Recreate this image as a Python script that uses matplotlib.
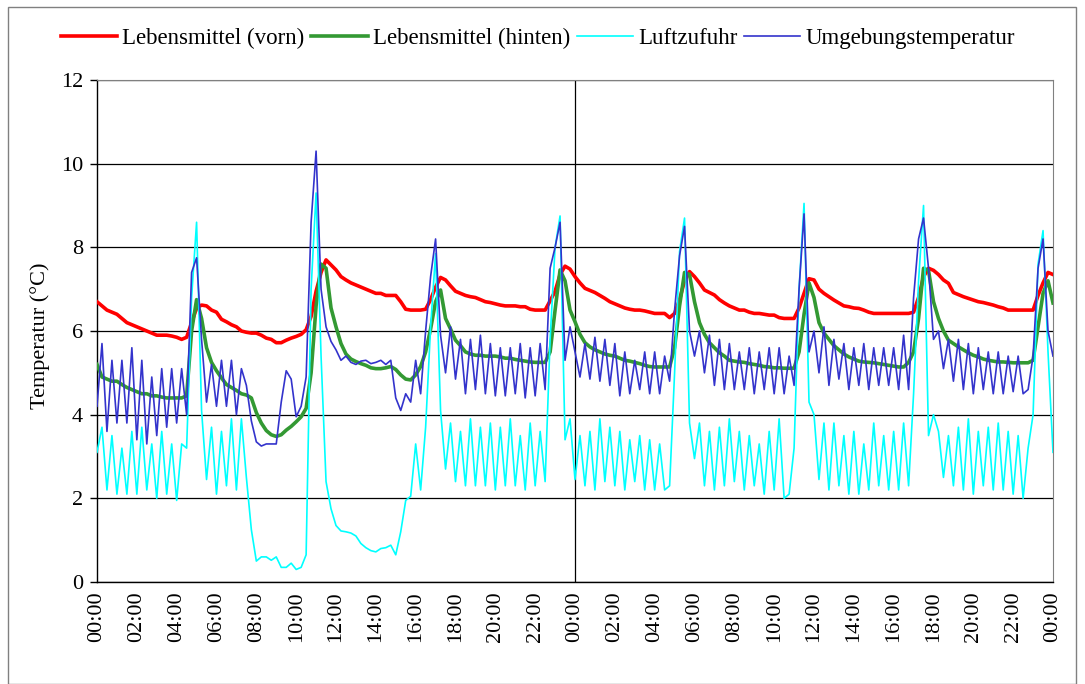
import numpy as np
import matplotlib
matplotlib.use("Agg")
import matplotlib.pyplot as plt
from matplotlib.lines import Line2D
from matplotlib.patches import Rectangle

plt.rcParams['font.family'] = ['Liberation Serif', 'DejaVu Serif']
plt.rcParams['font.size'] = 16

# Messwerte alle 15 Minuten ueber 48 Stunden (193 Werte je Reihe)
hours = np.arange(193) * 0.25

vorn = [
    6.70, 6.60, 6.50, 6.45,  6.40, 6.30, 6.20, 6.15,  6.10, 6.05, 6.00, 5.95,
    5.90, 5.90, 5.90, 5.88,  5.85, 5.80, 5.85, 6.20,  6.55, 6.62, 6.60, 6.50,
    6.45, 6.28, 6.22, 6.15,  6.10, 6.00, 5.97, 5.95,  5.95, 5.90, 5.83, 5.80,
    5.72, 5.72, 5.78, 5.83,  5.87, 5.92, 6.03, 6.35,  6.95, 7.40, 7.70, 7.58,
    7.46, 7.30, 7.22, 7.15,  7.10, 7.05, 7.00, 6.95,  6.90, 6.90, 6.85, 6.85,
    6.85, 6.70, 6.52, 6.50,  6.50, 6.50, 6.52, 6.75,  7.05, 7.28, 7.22, 7.08,
    6.95, 6.90, 6.85, 6.82,  6.80, 6.75, 6.70, 6.68,  6.65, 6.62, 6.60, 6.60,
    6.60, 6.58, 6.58, 6.52,  6.50, 6.50, 6.50, 6.72,  6.95, 7.35, 7.55, 7.48,
    7.30, 7.15, 7.02, 6.97,  6.92, 6.85, 6.78, 6.70,  6.65, 6.60, 6.55, 6.52,
    6.50, 6.50, 6.48, 6.45,  6.42, 6.42, 6.42, 6.32,  6.42, 6.75, 7.20, 7.42,
    7.30, 7.15, 6.98, 6.92,  6.86, 6.75, 6.67, 6.60,  6.55, 6.50, 6.50, 6.45,
    6.42, 6.42, 6.40, 6.38,  6.38, 6.32, 6.30, 6.30,  6.30, 6.55, 6.90, 7.25,
    7.22, 7.00, 6.90, 6.82,  6.74, 6.67, 6.60, 6.58,  6.55, 6.54, 6.50, 6.45,
    6.42, 6.42, 6.42, 6.42,  6.42, 6.42, 6.42, 6.42,  6.45, 6.80, 7.30, 7.50,
    7.45, 7.35, 7.22, 7.14,  6.92, 6.87, 6.82, 6.78,  6.74, 6.70, 6.68, 6.65,
    6.62, 6.58, 6.55, 6.50,  6.50, 6.50, 6.50, 6.50,  6.50, 6.85, 7.15, 7.40,
    7.35,
]

hinten = [
    5.20, 4.90, 4.85, 4.80,  4.80, 4.72, 4.65, 4.60,  4.55, 4.50, 4.50, 4.45,
    4.45, 4.42, 4.40, 4.40,  4.40, 4.40, 4.45, 6.00,  6.75, 6.30, 5.60, 5.25,
    5.05, 4.88, 4.72, 4.65,  4.58, 4.50, 4.47, 4.40,  4.05, 3.80, 3.62, 3.52,
    3.48, 3.52, 3.63, 3.72,  3.83, 3.95, 4.15, 5.00,  6.60, 7.60, 7.50, 6.55,
    6.10, 5.70, 5.45, 5.33,  5.27, 5.22, 5.18, 5.12,  5.10, 5.10, 5.12, 5.15,
    5.08, 4.95, 4.85, 4.83,  4.95, 5.15, 5.50, 6.05,  6.70, 6.98, 6.30, 6.05,
    5.78, 5.65, 5.50, 5.45,  5.42, 5.42, 5.40, 5.40,  5.40, 5.38, 5.35, 5.35,
    5.32, 5.30, 5.28, 5.26,  5.25, 5.25, 5.25, 5.50,  6.50, 7.46, 7.20, 6.50,
    6.22, 5.92, 5.72, 5.62,  5.55, 5.50, 5.45, 5.42,  5.40, 5.35, 5.30, 5.28,
    5.25, 5.22, 5.18, 5.15,  5.14, 5.14, 5.14, 5.14,  5.60, 6.60, 7.40, 7.35,
    6.70, 6.20, 5.92, 5.72,  5.60, 5.48, 5.40, 5.30,  5.28, 5.26, 5.25, 5.22,
    5.20, 5.18, 5.15, 5.14,  5.12, 5.12, 5.11, 5.11,  5.11, 5.50, 6.40, 7.15,
    6.80, 6.20, 5.95, 5.80,  5.65, 5.55, 5.45, 5.38,  5.33, 5.28, 5.26, 5.25,
    5.24, 5.22, 5.20, 5.18,  5.16, 5.14, 5.14, 5.25,  5.50, 6.30, 7.50, 7.45,
    6.70, 6.30, 6.00, 5.78,  5.70, 5.62, 5.55, 5.48,  5.42, 5.38, 5.33, 5.30,
    5.28, 5.26, 5.26, 5.25,  5.24, 5.24, 5.24, 5.24,  5.30, 6.10, 6.90, 7.20,
    6.67,
]

luft = [
    3.10, 3.70, 2.20, 3.50,  2.10, 3.20, 2.10, 3.60,  2.10, 3.70, 2.20, 3.30,
    2.00, 3.60, 2.10, 3.30,  1.95, 3.30, 3.20, 6.80,  8.60, 4.10, 2.45, 3.70,
    2.10, 3.60, 2.30, 3.90,  2.20, 3.90, 2.50, 1.25,  0.50, 0.60, 0.60, 0.52,
    0.60, 0.35, 0.35, 0.45,  0.30, 0.35, 0.65, 7.00,  9.30, 5.40, 2.40, 1.75,
    1.35, 1.22, 1.20, 1.17,  1.10, 0.92, 0.82, 0.75,  0.72, 0.80, 0.82, 0.88,
    0.65, 1.20, 1.95, 2.05,  3.30, 2.20, 3.70, 6.10,  7.85, 4.10, 2.70, 3.80,
    2.40, 3.60, 2.30, 3.90,  2.30, 3.70, 2.30, 3.80,  2.20, 3.70, 2.30, 3.90,
    2.30, 3.50, 2.20, 3.80,  2.30, 3.60, 2.40, 5.80,  8.00, 8.75, 3.40, 3.90,
    2.45, 3.50, 2.30, 3.60,  2.20, 3.90, 2.40, 3.70,  2.30, 3.60, 2.20, 3.40,
    2.40, 3.50, 2.20, 3.40,  2.20, 3.30, 2.20, 2.30,  5.00, 7.90, 8.70, 3.80,
    2.95, 3.80, 2.30, 3.60,  2.20, 3.70, 2.30, 3.90,  2.40, 3.60, 2.20, 3.50,
    2.30, 3.30, 2.10, 3.60,  2.20, 3.90, 2.00, 2.10,  3.20, 7.00, 9.05, 4.30,
    4.00, 2.45, 3.80, 2.20,  3.80, 2.30, 3.50, 2.10,  3.60, 2.10, 3.30, 2.20,
    3.80, 2.30, 3.50, 2.20,  3.60, 2.20, 3.80, 2.30,  4.50, 7.20, 9.00, 3.50,
    4.00, 3.60, 2.50, 3.50,  2.30, 3.70, 2.20, 3.90,  2.10, 3.60, 2.30, 3.70,
    2.20, 3.80, 2.20, 3.60,  2.10, 3.50, 2.00, 3.20,  4.00, 7.60, 8.40, 5.50,
    3.10,
]

umgebung = [
    4.20, 5.70, 3.60, 5.30,  3.80, 5.30, 3.80, 5.60,  3.40, 5.30, 3.30, 4.90,
    3.50, 5.10, 3.70, 5.10,  3.80, 5.10, 4.00, 7.40,  7.75, 5.80, 4.30, 5.20,
    4.20, 5.30, 4.20, 5.30,  4.00, 5.10, 4.70, 3.85,  3.35, 3.25, 3.30, 3.30,
    3.30, 4.30, 5.05, 4.85,  3.95, 4.20, 4.90, 8.60,  10.30, 7.00, 6.10, 5.75,
    5.55, 5.30, 5.40, 5.25,  5.20, 5.28, 5.30, 5.22,  5.25, 5.30, 5.20, 5.30,
    4.40, 4.10, 4.50, 4.30,  5.30, 4.50, 6.00, 7.30,  8.20, 5.90, 5.00, 6.10,
    4.85, 5.80, 4.50, 5.80,  4.60, 5.90, 4.50, 5.70,  4.45, 5.60, 4.45, 5.60,
    4.50, 5.70, 4.40, 5.60,  4.45, 5.70, 4.60, 7.50,  8.00, 8.60, 5.30, 6.10,
    5.50, 4.90, 5.70, 4.85,  5.85, 4.80, 5.80, 4.70,  5.70, 4.45, 5.50, 4.50,
    5.30, 4.60, 5.50, 4.50,  5.50, 4.50, 5.40, 4.80,  6.50, 7.80, 8.50, 6.00,
    5.40, 6.00, 5.00, 5.90,  4.70, 5.80, 4.60, 5.70,  4.60, 5.50, 4.60, 5.60,
    4.50, 5.50, 4.60, 5.60,  4.50, 5.60, 4.50, 5.40,  4.70, 7.00, 8.80, 5.50,
    6.00, 5.00, 6.10, 4.70,  5.80, 4.85, 5.70, 4.60,  5.60, 4.70, 5.70, 4.60,
    5.60, 4.70, 5.60, 4.70,  5.60, 4.60, 5.90, 4.60,  6.80, 8.20, 8.70, 7.50,
    5.80, 6.00, 5.10, 5.80,  4.80, 5.80, 4.60, 5.70,  4.50, 5.60, 4.60, 5.50,
    4.50, 5.50, 4.50, 5.40,  4.55, 5.40, 4.50, 4.60,  5.40, 7.50, 8.20, 6.00,
    5.40,
]

series = [
    ("Lebensmittel (vorn)", vorn, "#ff0000", 2.6),
    ("Lebensmittel (hinten)", hinten, "#339933", 2.6),
    ("Luftzufuhr", luft, "#00ffff", 1.2),
    ("Umgebungstemperatur", umgebung, "#3333cc", 1.2),
]

tick_hours = np.arange(0, 49, 2)
tick_labels = ["%02d:00" % (h % 24) for h in tick_hours]

W, H = 1085, 684
fig = plt.figure(figsize=(W / 100, H / 100), dpi=100)
fig.patch.set_facecolor("white")

# Rahmen um das ganze Diagramm
fig.patches.append(Rectangle((8 / W, 0), 1068 / W, 1 - 7 / H, transform=fig.transFigure,
                             fill=False, edgecolor="#808080", lw=1.0))

ax = fig.add_axes([97 / W, 1 - 582 / H, (1053 - 97) / W, (582 - 80) / H])

for z, (name, vals, col, lw) in enumerate(series):
    ax.plot(hours, vals, color=col, lw=lw, label=name, zorder=3 + z)

ax.set_xlim(0, 48)
ax.set_ylim(0, 12)
ax.set_yticks(np.arange(0, 13, 2))
ax.set_xticks(tick_hours)
ax.set_xticklabels(tick_labels, rotation=90, va="top")
ax.tick_params(axis="x", length=0, pad=7)
ax.tick_params(axis="y", length=5, width=1, direction="out", pad=5)

ax.grid(axis="y", color="black", lw=0.9, zorder=1)
ax.axvline(24, color="black", lw=0.9, zorder=1)
for side in ("top", "right"):
    ax.spines[side].set_color("#808080")
for side in ("left", "bottom"):
    ax.spines[side].set_color("black")
    ax.spines[side].set_linewidth(1.0)

fig.text(40 / W, 1 - 336 / H, "Temperatur (°C)", rotation=90, ha="center", va="center")

handles = [Line2D([], [], color=c, lw=lw) for _, _, c, lw in series]
fig.legend(handles, [s[0] for s in series], loc="center", bbox_to_anchor=(538 / W, 1 - 38 / H),
           ncol=4, frameon=False, fontsize=16.5, handlelength=2.45, handletextpad=0.22,
           columnspacing=0.3, borderpad=0)

fig.savefig("out.png", dpi=100)
